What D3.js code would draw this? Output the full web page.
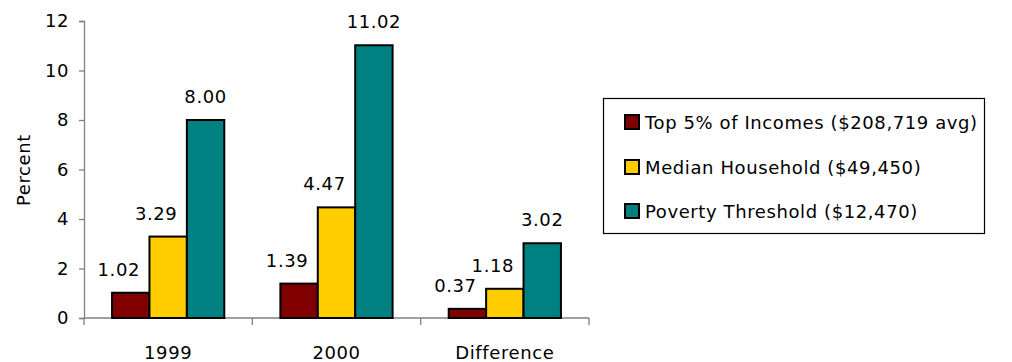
<!DOCTYPE html>
<html>
<head>
<meta charset="utf-8">
<script src="https://cdn.jsdelivr.net/npm/d3@7"></script>
<style>
  html, body { margin: 0; padding: 0; background: #fff; }
  svg { display: block; }
  text { font-family: "DejaVu Sans", sans-serif; fill: #000; letter-spacing: 0.6px; }
</style>
</head>
<body>
<svg id="chart" width="1012" height="362"></svg>
<script>
const categories = ["1999", "2000", "Difference"];
const seriesNames = [
  "Top 5% of Incomes ($208,719 avg)",
  "Median Household ($49,450)",
  "Poverty Threshold ($12,470)"
];
const top5 = [1.02, 1.39, 0.37];
const median = [3.29, 4.47, 1.18];
const poverty = [8.00, 11.02, 3.02];
const yTicks = [0, 2, 4, 6, 8, 10, 12];
const colors = ["#800000", "#FFCC00", "#008080"];

const seriesValues = [top5, median, poverty];

const svg = d3.select("#chart");
const fs = 18;

const x0 = d3.scaleBand().domain(categories).range([84, 589]).paddingInner(0).paddingOuter(0);
const x1 = d3.scaleBand().domain(d3.range(seriesNames.length)).range([0, x0.bandwidth()]).paddingInner(0).paddingOuter(0.75);
const y = d3.scaleLinear().domain([0, 12]).range([318, 21]);

// Y axis
const gy = svg.append("g").attr("transform", "translate(84,0)")
  .call(d3.axisLeft(y).tickValues(yTicks).tickSize(5).tickPadding(10).tickFormat(d3.format("d")));
gy.select(".domain").attr("stroke", "#808080").attr("stroke-width", 1.3);
gy.selectAll(".tick line").attr("stroke", "#808080").attr("stroke-width", 1.3);
gy.selectAll(".tick text").style("font-family", "DejaVu Sans, sans-serif").style("font-size", fs + "px")
  .style("letter-spacing", "0.6px").attr("fill", "#000");

// X axis line with ticks at band boundaries
const boundaries = categories.map(c => x0(c)).concat([x0(categories[categories.length - 1]) + x0.bandwidth()]);
svg.append("line").attr("x1", 84).attr("x2", boundaries[boundaries.length - 1])
  .attr("y1", y(0)).attr("y2", y(0)).attr("stroke", "#808080").attr("stroke-width", 1.3);
svg.selectAll(".xtick").data(boundaries).enter().append("line")
  .attr("x1", d => d).attr("x2", d => d).attr("y1", y(0)).attr("y2", y(0) + 7)
  .attr("stroke", "#808080").attr("stroke-width", 1.3);
svg.selectAll(".xlabel").data(categories).enter().append("text")
  .attr("x", d => x0(d) + x0.bandwidth() / 2).attr("y", 359)
  .attr("text-anchor", "middle").style("font-size", fs + "px").text(d => d);

// Y title
svg.append("text").attr("transform", "translate(30,170) rotate(-90)")
  .attr("text-anchor", "middle").style("font-size", fs + "px").text("Percent");

// Bars
const barData = [];
categories.forEach((c, ci) => {
  seriesValues.forEach((vals, si) => {
    barData.push({ c, si, v: vals[ci] });
  });
});
svg.selectAll(".bar").data(barData).enter().append("rect")
  .attr("x", d => x0(d.c) + x1(d.si))
  .attr("y", d => y(d.v))
  .attr("width", x1.bandwidth())
  .attr("height", d => y(0) - y(d.v))
  .attr("fill", d => colors[d.si])
  .attr("stroke", "#000").attr("stroke-width", 2);

// Value labels
svg.selectAll(".vlabel").data(barData).enter().append("text")
  .attr("x", d => x0(d.c) + x1(d.si) + x1.bandwidth() / 2 + (d.si < 2 ? -12 : 0))
  .attr("y", d => y(d.v) - 17)
  .attr("text-anchor", "middle").style("font-size", fs + "px")
  .text(d => d3.format(".2f")(d.v));

// Legend
const lg = svg.append("g");
lg.append("rect").attr("x", 603.5).attr("y", 98.5).attr("width", 381).attr("height", 135)
  .attr("fill", "#fff").attr("stroke", "#000").attr("stroke-width", 1.2);
const rowY = [122, 167, 211];
seriesNames.forEach((name, i) => {
  lg.append("rect").attr("x", 625).attr("y", rowY[i] - 7).attr("width", 14).attr("height", 14)
    .attr("fill", colors[i]).attr("stroke", "#000").attr("stroke-width", 2);
  lg.append("text").attr("x", 645).attr("y", rowY[i] + 6.5)
    .style("font-size", fs + "px").text(name);
});
</script>
</body>
</html>
